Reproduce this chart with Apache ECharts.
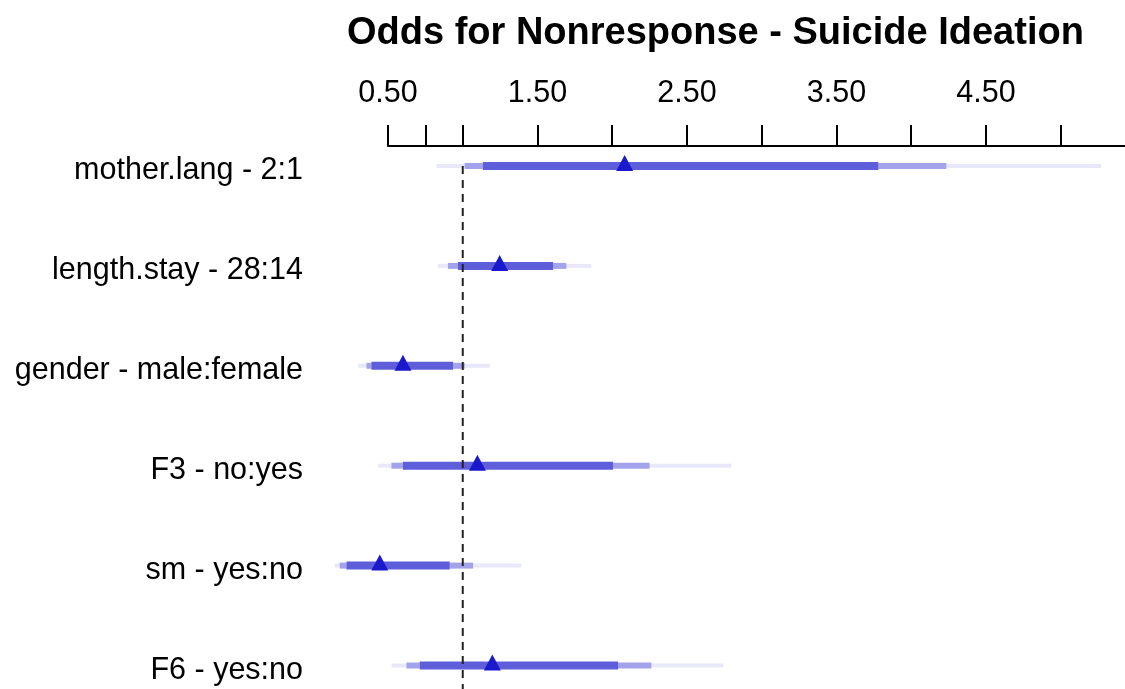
<!DOCTYPE html>
<html>
<head>
<meta charset="utf-8">
<script src="https://cdn.jsdelivr.net/npm/echarts@6/dist/echarts.min.js"></script>
<style>
html,body{margin:0;padding:0;background:#fff;}
#main{width:1125px;height:689px;}
</style>
</head>
<body>
<div id="main"></div>
<script>
const labels = ['mother.lang - 2:1','length.stay - 28:14','gender - male:female','F3 - no:yes','sm - yes:no','F6 - yes:no'];
const est  = [2.083, 1.247, 0.600, 1.098, 0.445, 1.198];
const lo90 = [1.135, 0.968, 0.389, 0.600, 0.222, 0.712];
const hi90 = [3.780, 1.604, 0.935, 2.005, 0.913, 2.039];
const lo95 = [1.013, 0.901, 0.356, 0.523, 0.177, 0.623];
const hi95 = [4.235, 1.693, 1.013, 2.250, 1.069, 2.262];
const lo99 = [0.824, 0.834, 0.300, 0.433, 0.143, 0.523];
const hi99 = [5.270, 1.860, 1.180, 2.797, 1.392, 2.741];
const tickValues = [0.5, 0.75, 1, 1.5, 2, 2.5, 3, 3.5, 4, 4.5, 5];
const tickLabels = [0.5, 1.5, 2.5, 3.5, 4.5];
const refValue = 1;

const FONT = "'Liberation Sans', Arial, sans-serif";
const rows = labels.map((l, i) => [i, lo99[i], lo95[i], lo90[i], est[i], hi90[i], hi95[i], hi99[i]]);
const rowIdx = labels.map((l, i) => i);

const chart = echarts.init(document.getElementById('main'));

function renderItem(params, api) {
  const r = api.value(0);
  const yc = api.coord([0, r])[1];
  const xs = [1,2,3,4,5,6,7].map(k => api.coord([api.value(k), r])[0]);
  const [x99l, x95l, x90l, xe, x90h, x95h, x99h] = xs;
  const seg = (a, b, h, color) => ({
    type: 'rect',
    shape: { x: a, y: yc - h / 2, width: b - a, height: h },
    style: { fill: color }
  });
  const faint = 'rgba(26,26,204,0.1)';
  const mid = 'rgba(26,26,204,0.4)';
  const dark = 'rgba(26,26,204,0.7)';
  return {
    type: 'group',
    children: [
      seg(x99l, x95l, 4, faint),
      seg(x95h, x99h, 4, faint),
      seg(x95l, x90l, 6, mid),
      seg(x90h, x95h, 6, mid),
      seg(x90l, x90h, 8, dark),
      {
        type: 'polygon',
        shape: { points: [[xe - 8.5, yc + 5], [xe + 8.5, yc + 5], [xe, yc - 11]] },
        style: { fill: '#1a1acc' }
      }
    ]
  };
}

chart.setOption({
  animation: false,
  backgroundColor: '#fff',
  title: {
    text: 'Odds for Nonresponse - Suicide Ideation',
    left: 342,
    top: 10,
    textStyle: { fontFamily: FONT, fontSize: 38, fontWeight: 'bold', color: '#000' }
  },
  grid: { left: 388, right: 0, top: 146, bottom: 0 },
  xAxis: {
    type: 'value',
    position: 'top',
    min: 0.5,
    max: 5.43,
    splitLine: { show: false },
    axisLine: { show: true, onZero: false, lineStyle: { color: '#000', width: 2 } },
    axisTick: { show: true, length: 21, lineStyle: { color: '#000', width: 2 }, customValues: tickValues },
    axisLabel: {
      customValues: tickLabels,
      formatter: v => Number(v).toFixed(2),
      fontFamily: FONT, fontSize: 30.5, color: '#000', margin: 37
    }
  },
  yAxis: {
    type: 'value',
    inverse: true,
    min: -0.2,
    max: 5.235,
    splitLine: { show: false },
    axisLine: { show: false },
    axisTick: { show: false },
    axisLabel: {
      customValues: rowIdx,
      formatter: v => labels[Math.round(v)],
      fontFamily: FONT, fontSize: 30.5, color: '#000', margin: 85,
      verticalAlign: 'top',
      lineHeight: 10
    }
  },
  series: [
    {
      type: 'custom',
      clip: false,
      renderItem: renderItem,
      encode: { x: [1, 7], y: 0 },
      data: rows,
      z: 2
    },
    {
      type: 'line',
      data: [[refValue, 0], [refValue, 5.235]],
      symbol: 'none',
      lineStyle: { color: '#222', width: 2, type: [8, 6] },
      z: 3,
      silent: true
    }
  ]
});
</script>
</body>
</html>
